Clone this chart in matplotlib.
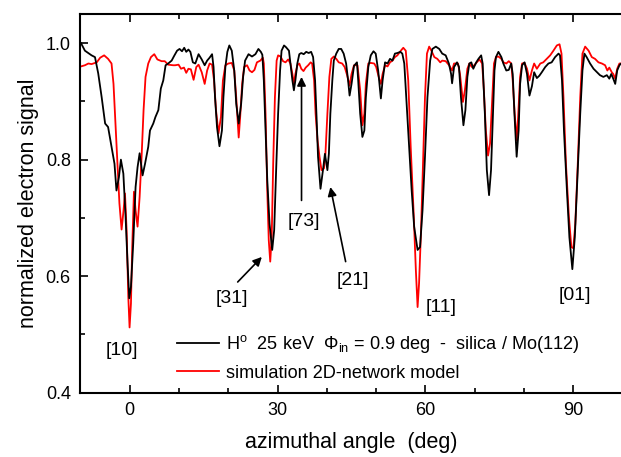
# Azimuthal scan of fast H atoms on silica/Mo(112): measured electron signal
# vs. 2D-network model simulation. Values read off the published figure.

import matplotlib
matplotlib.use("Agg")
import matplotlib.pyplot as plt
from matplotlib.ticker import MultipleLocator

plt.rcParams["font.family"] = ["Liberation Sans", "DejaVu Sans"]
plt.rcParams["mathtext.fontset"] = "custom"
plt.rcParams["mathtext.rm"] = "Liberation Sans"

# measured (black)
exp_angle = [
    -9.9, -9.1, -7.75, -7.06, -6.4, -5.7, -5.0, -4.4, -3.7, -3.1, -2.7, -2.2, -1.8, -1.3,
    -0.85, -0.45, -0.1, 0.24, 0.7, 1.18, 1.58, 2.0, 2.6, 3.1, 3.75, 4.1, 4.77, 5.2, 5.8,
    6.3, 6.8, 7.27, 7.8, 8.5, 9.0, 9.6, 10.1, 10.6, 11.05, 11.46, 11.9, 12.3, 12.8, 13.3,
    13.96, 14.6, 15.2, 15.7, 16.2, 16.7, 17.0, 17.3, 17.7, 18.2, 18.7, 19.0, 19.4, 19.8,
    20.2, 20.7, 21.2, 21.6, 22.1, 22.6, 23.0, 23.4, 24.1, 24.8, 25.5, 26.1, 26.6, 26.9,
    27.2, 27.55, 27.9, 28.36, 28.9, 29.3, 29.7, 30.1, 30.5, 30.8, 31.3, 31.7, 32.3, 32.6,
    33.0, 33.3, 33.6, 34.0, 34.4, 34.8, 35.3, 35.8, 36.3, 36.8, 37.2, 37.6, 37.9, 38.2,
    38.7, 39.2, 39.6, 40.1, 40.4, 40.7, 41.1, 41.4, 41.9, 42.4, 42.9, 43.4, 43.9, 44.3,
    44.6, 45.0, 45.5, 46.1, 46.35, 46.75, 47.2, 47.6, 47.9, 48.4, 48.9, 49.45, 49.9, 50.4,
    50.95, 51.3, 51.8, 52.3, 52.8, 53.3, 53.8, 54.3, 54.9, 55.3, 55.7, 56.1, 56.7, 57.2,
    57.7, 58.4, 58.9, 59.4, 59.9, 60.4, 60.95, 61.4, 62.1, 62.8, 63.4, 64.1, 64.75, 65.2,
    65.4, 65.8, 66.4, 66.8, 67.2, 67.7, 68.1, 68.5, 68.9, 69.3, 69.7, 70.3, 70.75, 71.3,
    71.6, 72.05, 72.45, 72.9, 73.3, 73.7, 74.0, 74.3, 74.8, 75.4, 75.8, 76.4, 76.9, 77.4,
    77.7, 78.05, 78.5, 78.9, 79.2, 79.6, 80.1, 80.6, 81.1, 81.6, 82.05, 82.6, 83.1, 83.6,
    84.3, 84.95, 85.6, 86.3, 87.0, 87.3, 87.7, 88.1, 88.7, 89.2, 89.8, 90.3, 90.8, 91.4,
    91.85, 92.25, 92.7, 93.4, 94.1, 94.8, 95.4, 96.1, 96.8, 97.3, 97.7, 98.1, 98.5, 98.9,
    99.35, 99.7, 100.0,
]
exp_signal = [
    1.000, 0.987, 0.979, 0.976, 0.948, 0.907, 0.862, 0.856, 0.822, 0.793, 0.747, 0.770, 0.800, 0.776,
    0.702, 0.622, 0.562, 0.582, 0.656, 0.753, 0.787, 0.811, 0.773, 0.793, 0.822, 0.850, 0.862, 0.873, 0.885,
    0.922, 0.936, 0.962, 0.965, 0.970, 0.978, 0.987, 0.990, 0.986, 0.992, 0.985, 0.989, 0.985, 0.967, 0.965,
    0.981, 0.972, 0.962, 0.970, 0.975, 0.981, 0.959, 0.907, 0.856, 0.823, 0.850, 0.907, 0.959, 0.985,
    0.996, 0.987, 0.953, 0.896, 0.862, 0.896, 0.942, 0.970, 0.981, 0.977, 0.981, 0.990, 0.985, 0.980,
    0.936, 0.850, 0.765, 0.690, 0.645, 0.679, 0.782, 0.879, 0.953, 0.987, 0.996, 0.993, 0.987, 0.965,
    0.936, 0.919, 0.936, 0.965, 0.981, 0.983, 0.981, 0.985, 0.983, 0.985, 0.976, 0.936, 0.873, 0.805,
    0.750, 0.782, 0.810, 0.782, 0.810, 0.879, 0.936, 0.970, 0.982, 0.990, 0.990, 0.982, 0.965, 0.936,
    0.910, 0.930, 0.961, 0.967, 0.936, 0.879, 0.839, 0.850, 0.907, 0.959, 0.979, 0.986, 0.982, 0.953,
    0.905, 0.936, 0.967, 0.965, 0.973, 0.970, 0.982, 0.983, 0.985, 0.982, 0.965, 0.907, 0.822, 0.747,
    0.685, 0.645, 0.650, 0.713, 0.805, 0.907, 0.970, 0.990, 0.994, 0.990, 0.982, 0.979, 0.965, 0.947,
    0.931, 0.959, 0.967, 0.959, 0.907, 0.859, 0.885, 0.942, 0.965, 0.967, 0.956, 0.967, 0.973, 0.979,
    0.965, 0.879, 0.782, 0.739, 0.782, 0.879, 0.953, 0.976, 0.985, 0.976, 0.965, 0.953, 0.954, 0.965,
    0.947, 0.879, 0.805, 0.850, 0.930, 0.962, 0.967, 0.947, 0.910, 0.926, 0.950, 0.940, 0.944, 0.950,
    0.959, 0.965, 0.967, 0.976, 0.982, 0.979, 0.936, 0.850, 0.747, 0.667, 0.612, 0.667, 0.765, 0.879,
    0.953, 0.982, 0.976, 0.965, 0.956, 0.950, 0.945, 0.942, 0.945, 0.939, 0.947, 0.939, 0.930, 0.953,
    0.962, 0.965, 0.965,
]

# 2D-network model (red)
sim_angle = [
    -9.9, -9.1, -8.4, -7.75, -6.7, -6.0, -5.2, -4.4, -3.7, -3.3, -2.9, -2.5, -2.1, -1.66,
    -1.26, -0.97, -0.64, -0.3, -0.04, 0.24, 0.5, 0.85, 1.18, 1.58, 2.0, 2.4, 2.8, 3.2,
    3.75, 4.3, 4.97, 5.6, 6.45, 7.1, 7.8, 8.8, 9.2, 9.9, 10.4, 11.0, 11.46, 11.9, 12.4,
    12.95, 13.5, 13.96, 14.6, 15.2, 15.7, 16.2, 16.7, 17.1, 17.5, 18.0, 18.5, 18.9, 19.4,
    20.0, 20.7, 21.2, 21.6, 22.1, 22.4, 22.8, 23.2, 23.8, 24.3, 24.8, 25.3, 25.8, 26.5,
    27.0, 27.2, 27.55, 27.9, 28.2, 28.5, 28.8, 29.1, 29.45, 29.8, 30.1, 30.6, 31.1, 31.6,
    32.15, 32.6, 33.0, 33.3, 33.6, 34.0, 34.4, 34.8, 35.25, 35.7, 36.2, 36.7, 37.0, 37.4,
    37.7, 38.1, 38.5, 38.9, 39.4, 39.7, 40.1, 40.5, 40.9, 41.4, 41.9, 42.4, 43.1, 43.6,
    44.1, 44.6, 45.0, 45.5, 46.2, 46.75, 47.2, 47.6, 47.9, 48.4, 48.9, 49.6, 50.0, 50.6,
    50.95, 51.3, 51.8, 52.3, 52.8, 53.3, 53.8, 54.3, 55.0, 55.5, 56.0, 56.5, 57.0, 57.6,
    58.05, 58.4, 58.7, 59.1, 59.5, 59.9, 60.3, 60.75, 61.2, 61.8, 62.4, 63.0, 63.4, 64.1,
    64.8, 65.4, 65.8, 66.6, 67.0, 67.6, 68.0, 68.5, 68.9, 69.4, 69.9, 70.4, 70.95, 71.5,
    71.85, 72.25, 72.7, 73.1, 73.5, 73.9, 74.3, 74.8, 75.4, 75.8, 76.4, 76.9, 77.4, 77.7,
    78.1, 78.5, 78.8, 79.2, 79.6, 80.1, 80.6, 81.1, 81.6, 82.05, 82.6, 83.3, 83.9, 84.6,
    85.3, 85.96, 86.65, 87.2, 87.6, 88.0, 88.5, 89.1, 89.6, 90.0, 90.4, 90.9, 91.4, 91.85,
    92.4, 93.1, 93.75, 94.4, 95.1, 95.8, 96.45, 96.9, 97.3, 97.8, 98.1, 98.5, 98.9, 99.35,
    99.7, 100.0,
]
sim_signal = [
    0.960, 0.962, 0.965, 0.964, 0.967, 0.975, 0.979, 0.973, 0.965, 0.930, 0.862, 0.793, 0.725, 0.680,
    0.713, 0.742, 0.679, 0.565, 0.512, 0.553, 0.650, 0.745, 0.713, 0.685, 0.736, 0.805, 0.885, 0.942,
    0.965, 0.976, 0.981, 0.972, 0.969, 0.969, 0.963, 0.962, 0.962, 0.963, 0.956, 0.958, 0.949, 0.956, 0.955,
    0.937, 0.959, 0.963, 0.950, 0.930, 0.953, 0.965, 0.963, 0.936, 0.885, 0.845, 0.873, 0.936, 0.962,
    0.965, 0.966, 0.953, 0.907, 0.838, 0.873, 0.930, 0.959, 0.962, 0.953, 0.950, 0.954, 0.967, 0.970,
    0.975, 0.965, 0.879, 0.747, 0.662, 0.625, 0.667, 0.793, 0.907, 0.970, 0.979, 0.977, 0.969, 0.967,
    0.972, 0.965, 0.947, 0.930, 0.947, 0.962, 0.965, 0.956, 0.952, 0.958, 0.962, 0.967, 0.965, 0.936,
    0.879, 0.833, 0.805, 0.782, 0.785, 0.810, 0.879, 0.942, 0.973, 0.977, 0.973, 0.967, 0.965, 0.959,
    0.945, 0.927, 0.947, 0.962, 0.962, 0.919, 0.859, 0.879, 0.930, 0.965, 0.966, 0.965, 0.959, 0.939,
    0.930, 0.947, 0.962, 0.960, 0.967, 0.970, 0.976, 0.979, 0.987, 0.992, 0.987, 0.936, 0.822, 0.708,
    0.610, 0.547, 0.588, 0.679, 0.793, 0.907, 0.982, 0.994, 0.987, 0.976, 0.973, 0.967, 0.970, 0.969,
    0.962, 0.953, 0.965, 0.965, 0.947, 0.899, 0.919, 0.956, 0.965, 0.959, 0.962, 0.967, 0.972, 0.965,
    0.919, 0.850, 0.807, 0.828, 0.896, 0.965, 0.976, 0.977, 0.973, 0.967, 0.965, 0.969, 0.965, 0.936,
    0.879, 0.833, 0.873, 0.942, 0.965, 0.966, 0.956, 0.936, 0.953, 0.965, 0.956, 0.965, 0.967, 0.973,
    0.979, 0.987, 0.996, 0.998, 0.982, 0.907, 0.793, 0.702, 0.650, 0.648, 0.690, 0.793, 0.907, 0.982,
    0.994, 0.987, 0.976, 0.973, 0.967, 0.965, 0.962, 0.953, 0.958, 0.950, 0.947, 0.939, 0.956, 0.965,
    0.965, 0.965,
]

# surface-direction labels: text, x, y
dir_labels = ["[10]", "[31]", "[73]", "[21]", "[11]", "[01]"]
dir_label_x = [-1.7, 20.8, 35.4, 45.3, 63.2, 90.3]
dir_label_y = [0.473, 0.562, 0.694, 0.593, 0.547, 0.566]

# arrows: (tail) -> (head)
arrow_tail = [(21.9, 0.590), (34.85, 0.730), (43.8, 0.625)]
arrow_head = [(26.8, 0.633), (34.85, 0.942), (40.7, 0.753)]

exp_label = r"H$^{\rm o}$  25 keV  Φ$_{\rm in}$ = 0.9 deg  -  silica / Mo(112)"
sim_label = "simulation 2D-network model"


def main():
    fig = plt.figure(figsize=(6.21, 4.57), dpi=100)
    ax = fig.add_axes([0.1296, 0.1407, 0.873, 0.8287])

    ax.plot(sim_angle, sim_signal, color="#ff0000", linewidth=1.3, label=sim_label, zorder=2)
    ax.plot(exp_angle, exp_signal, color="black", linewidth=1.3, label=exp_label, zorder=3)

    for txt, x, y in zip(dir_labels, dir_label_x, dir_label_y):
        ax.text(x, y, txt, fontsize=14, ha="center", va="center")

    for tail, head in zip(arrow_tail, arrow_head):
        ax.annotate("", xy=head, xytext=tail,
                    arrowprops=dict(arrowstyle="-|>", color="black", lw=1.2,
                                    mutation_scale=13, shrinkA=0, shrinkB=0))

    ax.set_xlim(-10, 100)
    ax.set_ylim(0.4, 1.05)
    ax.xaxis.set_major_locator(MultipleLocator(30))
    ax.xaxis.set_minor_locator(MultipleLocator(10))
    ax.yaxis.set_major_locator(MultipleLocator(0.2))
    ax.yaxis.set_minor_locator(MultipleLocator(0.1))
    ax.tick_params(which="both", direction="in", top=True, right=False, labelsize=13,
                   width=1.2, pad=7)
    ax.tick_params(which="major", length=6)
    ax.tick_params(which="minor", length=3.5)
    for sp in ax.spines.values():
        sp.set_linewidth(1.5)
    ax.spines["right"].set_visible(False)

    ax.set_xlabel("azimuthal angle  (deg)", fontsize=15.5, labelpad=9)
    ax.set_ylabel("normalized electron signal", fontsize=15.5, labelpad=5)

    handles, labels = ax.get_legend_handles_labels()
    ax.legend(handles[::-1], labels[::-1], loc="center left", frameon=False,
              bbox_to_anchor=(0.2845, 0.2177), bbox_transform=fig.transFigure,
              fontsize=13.1, handlelength=2.3, handletextpad=0.4,
              borderpad=0, borderaxespad=0, labelspacing=0.5)

    fig.savefig("out.png", dpi=100)
    plt.close(fig)


if __name__ == "__main__":
    main()
